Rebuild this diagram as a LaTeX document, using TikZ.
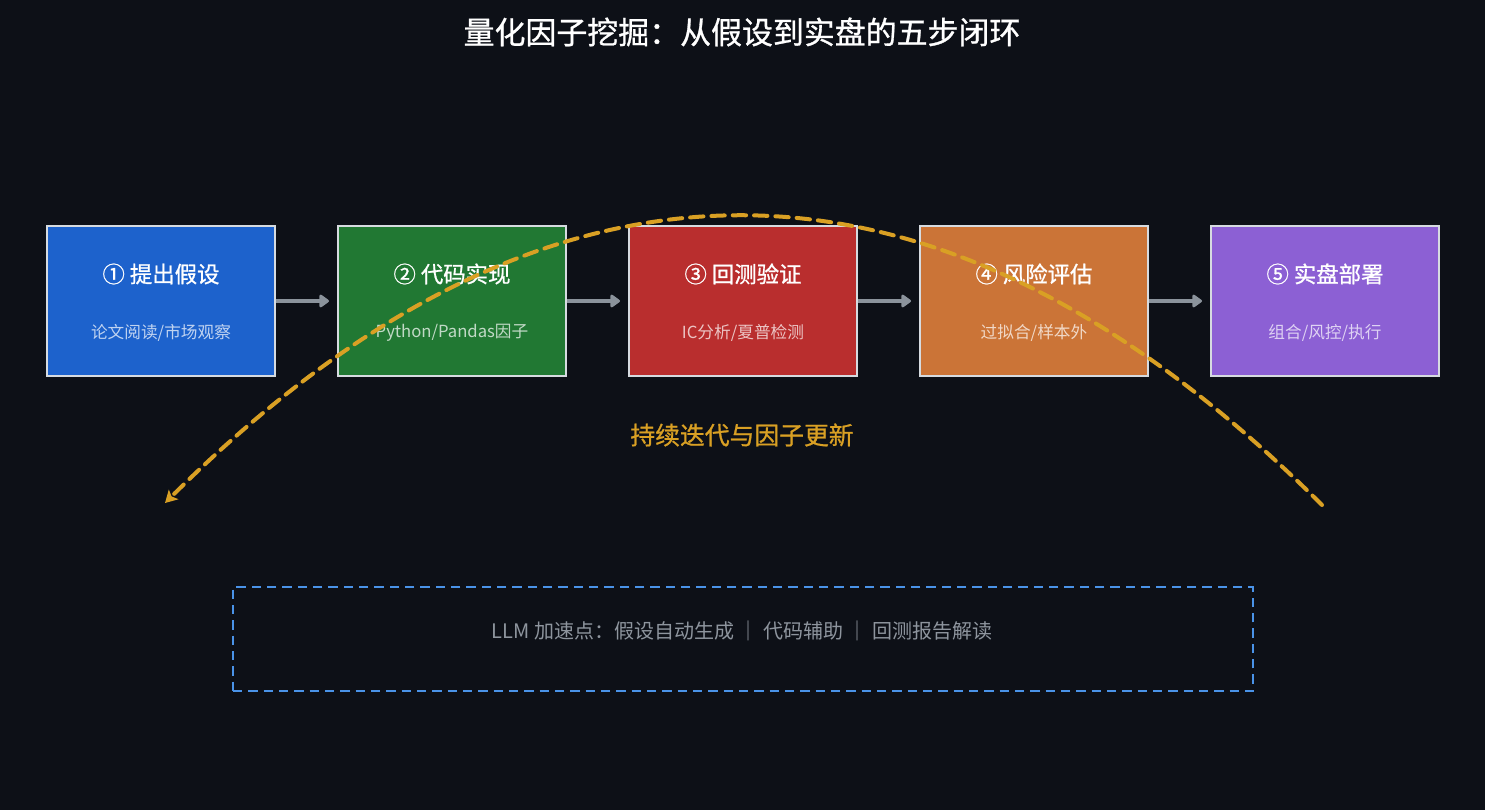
\documentclass[tikz,border=0pt]{standalone}
\usepackage{fontspec}
\setmainfont{Noto Sans CJK SC}
\newfontfamily\medfont[FakeBold=0.9]{Noto Sans CJK SC}
\usetikzlibrary{arrows.meta,calc}
\definecolor{bg}{HTML}{0D1017}
\definecolor{cblue}{HTML}{1D62CC}
\definecolor{cgreen}{HTML}{217833}
\definecolor{cred}{HTML}{B92E2E}
\definecolor{corange}{HTML}{CB7437}
\definecolor{cpurple}{HTML}{8C60D4}
\definecolor{bordc}{HTML}{D6DBE0}
\definecolor{arrc}{HTML}{8B939C}
\definecolor{loopc}{HTML}{D9A024}
\definecolor{dashb}{HTML}{4A93E8}
\definecolor{subt}{HTML}{8E959E}
\tikzset{
  stepbox/.style={draw=bordc, line width=1.5pt, minimum width=171pt, minimum height=112.5pt, inner sep=0pt},
  boxtitle/.style={text=white, font=\medfont\fontsize{16.8pt}{19pt}\selectfont},
  boxsub/.style={text=white, text opacity=0.72, font=\fontsize{12.5pt}{14pt}\selectfont},
  flowarrow/.style={draw=arrc, line width=3pt, -{Triangle[length=8pt,width=11pt,round]}},
}
\begin{document}
\begin{tikzpicture}[x=0.75pt,y=-0.75pt]
\fill[bg] (0,0) rectangle (1485,810);
\useasboundingbox (0,0) rectangle (1485,810);
\node[text=white, font=\medfont\fontsize{23.2pt}{26pt}\selectfont] (title) at (742,32) {量化因子挖掘：从假设到实盘的五步闭环};
% boxes
\node[stepbox, fill=cblue] (b1) at (161,301) {};
\node[stepbox, fill=cgreen] (b2) at (452,301) {};
\node[stepbox, fill=cred] (b3) at (743,301) {};
\node[stepbox, fill=corange] (b4) at (1034,301) {};
\node[stepbox, fill=cpurple] (b5) at (1325,301) {};
\node[boxtitle] (t1) at (161,274) {① 提出假设};
\node[boxtitle] (t2) at (452,274) {② 代码实现};
\node[boxtitle] (t3) at (743,274) {③ 回测验证};
\node[boxtitle] (t4) at (1034,274) {④ 风险评估};
\node[boxtitle] (t5) at (1325,274) {⑤ 实盘部署};
\node[boxsub] (s1) at (161,333) {论文阅读/市场观察};
\node[boxsub] (s2) at (452,333) {Python/Pandas因子};
\node[boxsub] (s3) at (743,333) {IC分析/夏普检测};
\node[boxsub] (s4) at (1034,333) {过拟合/样本外};
\node[boxsub] (s5) at (1325,333) {组合/风控/执行};
% arrows
\draw[flowarrow] (b1.east) -- ([xshift=-6]b2.west);
\draw[flowarrow] (b2.east) -- ([xshift=-6]b3.west);
\draw[flowarrow] (b3.east) -- ([xshift=-6]b4.west);
\draw[flowarrow] (b4.east) -- ([xshift=-6]b5.west);
% loop
\coordinate (ls) at (1322,505);
\coordinate (lc) at (743,-72);
\coordinate (le) at (165,503);
\draw[loopc, line width=3pt, dash pattern=on 10pt off 6pt, line cap=round, -{Stealth[length=9pt,width=10pt,inset=2pt]}] (ls) .. controls ($(ls)!2/3!(lc)$) and ($(le)!2/3!(lc)$) .. (le);
\node[text=loopc, font=\medfont\fontsize{18.6pt}{21pt}\selectfont] (loopl) at (742,435) {持续迭代与因子更新};
% LLM box
\node[draw=dashb, line width=2pt, dash pattern=on 7pt off 4.5pt, minimum width=765pt, minimum height=78pt, inner sep=0pt] (llm) at (743,639) {};
\node[text=subt, font=\fontsize{15pt}{17pt}\selectfont] (llmt) at (742,631) {LLM 加速点：假设自动生成 ｜ 代码辅助 ｜ 回测报告解读};
\end{tikzpicture}
\end{document}
